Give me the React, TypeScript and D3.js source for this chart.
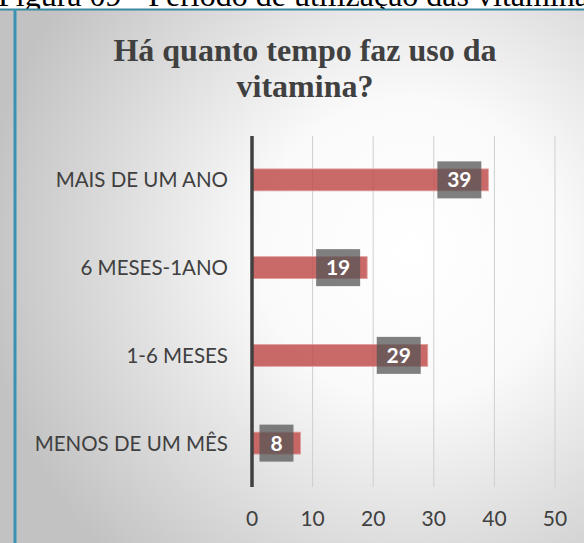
import React from 'react';
import * as d3 from 'd3';

const categories = ['MAIS DE UM ANO', '6 MESES-1ANO', '1-6 MESES', 'MENOS DE UM MÊS'];
const values = [39, 19, 29, 8];
const xTicks = [0, 10, 20, 30, 40, 50];
const title = ['Há quanto tempo faz uso da', 'vitamina?'];
const caption = 'Figura 09 - Período de utilização das vitaminas';

export default function App() {
  const width = 584;
  const height = 543;
  const left = 252;
  const right = 555;
  const top = 136;
  const bottom = 487;

  const x = d3.scaleLinear().domain([0, 50]).range([left, right]);
  const y = d3.scaleBand().domain(categories).range([top, bottom]).paddingInner(0.75).paddingOuter(0.375);

  const font = 'Lato, "Open Sans", sans-serif';
  const serif = '"Liberation Serif", "Times New Roman", serif';

  return (
    <svg
      width={width}
      height={height}
      style={{ position: 'absolute', left: 0, top: 0, display: 'block' }}
    >
      <defs>
        <radialGradient id="bg" cx="410" cy="250" r="430" gradientUnits="userSpaceOnUse">
          <stop offset="0" stopColor="#ffffff" />
          <stop offset="0.35" stopColor="#fafafa" />
          <stop offset="1" stopColor="#c2c2c2" />
        </radialGradient>
      </defs>
      <rect x={0} y={0} width={width} height={height} fill="#fff" />
      {/* caption of the figure, cut by the top edge as in the source page */}
      <text x={-2} y={6} fontFamily={serif} fontSize={32} fill="#000">
        {caption}
      </text>
      <rect x={0} y={10} width={width} height={height - 10} fill="url(#bg)" />
      <line x1={0} x2={width} y1={9.5} y2={9.5} stroke="#3a8aa2" strokeWidth={2} />
      <line x1={15} x2={15} y1={9} y2={height} stroke="#3a91b2" strokeWidth={3} />

      {title.map((t, i) => (
        <text
          key={t}
          x={305}
          y={61 + i * 36}
          textAnchor="middle"
          fontFamily={serif}
          fontWeight="bold"
          fontSize={32}
          fill="#404040"
        >
          {t}
        </text>
      ))}

      {xTicks.filter((t) => t > 0).map((t) => (
        <line key={t} x1={x(t)} x2={x(t)} y1={top} y2={bottom} stroke="#cfcfcf" strokeWidth={1} />
      ))}

      {categories.map((c, i) => {
        const v = values[i];
        const yc = (y(c) as number) + y.bandwidth() / 2;
        const label = String(v);
        const bw = 24 + label.length * 10;
        const bx = x(v) - 7 - bw;
        return (
          <g key={c}>
            <rect
              x={x(0)}
              y={y(c)}
              width={x(v) - x(0)}
              height={y.bandwidth()}
              fill="rgb(192,80,77)"
              fillOpacity={0.85}
              stroke="#e0a0a0"
              strokeWidth={0.8}
            />
            <rect x={bx} y={yc - 18.5} width={bw} height={37} fill="rgb(86,86,86)" fillOpacity={0.75} />
            <text
              x={bx + bw / 2}
              y={yc}
              dy="0.36em"
              textAnchor="middle"
              fontFamily={font}
              fontWeight="bold"
              fontSize={21}
              fill="#fff"
            >
              {label}
            </text>
            <text
              x={228}
              y={yc}
              dy="0.36em"
              textAnchor="end"
              fontFamily={font}
              fontSize={20.5}
              fill="#404040"
            >
              {c}
            </text>
          </g>
        );
      })}

      <line x1={left} x2={left} y1={top} y2={bottom} stroke="#404040" strokeWidth={3.5} />

      {xTicks.map((t) => (
        <text
          key={t}
          x={x(t)}
          y={518}
          dy="0.36em"
          textAnchor="middle"
          fontFamily={font}
          fontSize={21}
          fill="#404040"
        >
          {t}
        </text>
      ))}
    </svg>
  );
}
